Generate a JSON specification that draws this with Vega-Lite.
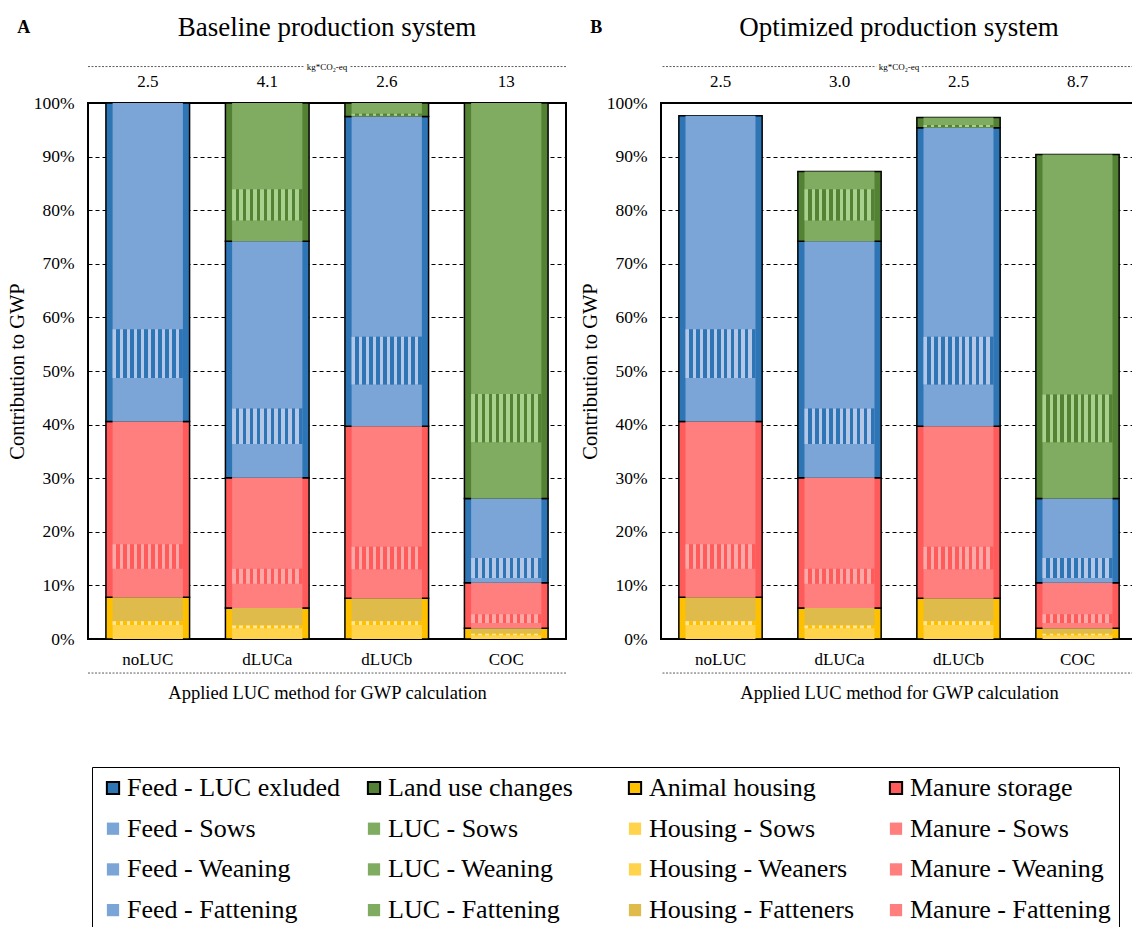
{
  "$schema": "https://vega.github.io/schema/vega-lite/v6.json",
  "background": "white",
  "padding": {"left": 6, "top": 12, "right": 0, "bottom": 0},
  "datasets": {
    "segs": [
      {"p":"A","m":"noLUC","g":"Animal housing","s":"Housing - Sows","o":1,"v":2.6},
      {"p":"A","m":"noLUC","g":"Animal housing","s":"Housing - Weaners","o":2,"v":0.7},
      {"p":"A","m":"noLUC","g":"Animal housing","s":"Housing - Fatteners","o":3,"v":4.5},
      {"p":"A","m":"noLUC","g":"Manure storage","s":"Manure - Sows","o":4,"v":5.3},
      {"p":"A","m":"noLUC","g":"Manure storage","s":"Manure - Weaning","o":5,"v":4.6},
      {"p":"A","m":"noLUC","g":"Manure storage","s":"Manure - Fattening","o":6,"v":22.9},
      {"p":"A","m":"noLUC","g":"Feed  - LUC exluded","s":"Feed - Sows","o":7,"v":8.1},
      {"p":"A","m":"noLUC","g":"Feed  - LUC exluded","s":"Feed - Weaning","o":8,"v":9.1},
      {"p":"A","m":"noLUC","g":"Feed  - LUC exluded","s":"Feed - Fattening","o":9,"v":42.2},

      {"p":"A","m":"dLUCa","g":"Animal housing","s":"Housing - Sows","o":1,"v":2.0},
      {"p":"A","m":"dLUCa","g":"Animal housing","s":"Housing - Weaners","o":2,"v":0.5},
      {"p":"A","m":"dLUCa","g":"Animal housing","s":"Housing - Fatteners","o":3,"v":3.3},
      {"p":"A","m":"dLUCa","g":"Manure storage","s":"Manure - Sows","o":4,"v":4.5},
      {"p":"A","m":"dLUCa","g":"Manure storage","s":"Manure - Weaning","o":5,"v":2.8},
      {"p":"A","m":"dLUCa","g":"Manure storage","s":"Manure - Fattening","o":6,"v":17.0},
      {"p":"A","m":"dLUCa","g":"Feed  - LUC exluded","s":"Feed - Sows","o":7,"v":6.3},
      {"p":"A","m":"dLUCa","g":"Feed  - LUC exluded","s":"Feed - Weaning","o":8,"v":6.6},
      {"p":"A","m":"dLUCa","g":"Feed  - LUC exluded","s":"Feed - Fattening","o":9,"v":31.2},
      {"p":"A","m":"dLUCa","g":"Land use changes","s":"LUC - Sows","o":10,"v":3.9},
      {"p":"A","m":"dLUCa","g":"Land use changes","s":"LUC - Weaning","o":11,"v":5.8},
      {"p":"A","m":"dLUCa","g":"Land use changes","s":"LUC - Fattening","o":12,"v":16.1},

      {"p":"A","m":"dLUCb","g":"Animal housing","s":"Housing - Sows","o":1,"v":2.6},
      {"p":"A","m":"dLUCb","g":"Animal housing","s":"Housing - Weaners","o":2,"v":0.7},
      {"p":"A","m":"dLUCb","g":"Animal housing","s":"Housing - Fatteners","o":3,"v":4.3},
      {"p":"A","m":"dLUCb","g":"Manure storage","s":"Manure - Sows","o":4,"v":5.4},
      {"p":"A","m":"dLUCb","g":"Manure storage","s":"Manure - Weaning","o":5,"v":4.2},
      {"p":"A","m":"dLUCb","g":"Manure storage","s":"Manure - Fattening","o":6,"v":22.5},
      {"p":"A","m":"dLUCb","g":"Feed  - LUC exluded","s":"Feed - Sows","o":7,"v":7.8},
      {"p":"A","m":"dLUCb","g":"Feed  - LUC exluded","s":"Feed - Weaning","o":8,"v":8.9},
      {"p":"A","m":"dLUCb","g":"Feed  - LUC exluded","s":"Feed - Fattening","o":9,"v":41.1},
      {"p":"A","m":"dLUCb","g":"Land use changes","s":"LUC - Sows","o":10,"v":0.1},
      {"p":"A","m":"dLUCb","g":"Land use changes","s":"LUC - Weaning","o":11,"v":0.4},
      {"p":"A","m":"dLUCb","g":"Land use changes","s":"LUC - Fattening","o":12,"v":2.0},

      {"p":"A","m":"COC","g":"Animal housing","s":"Housing - Sows","o":1,"v":0.7},
      {"p":"A","m":"COC","g":"Animal housing","s":"Housing - Weaners","o":2,"v":0.3},
      {"p":"A","m":"COC","g":"Animal housing","s":"Housing - Fatteners","o":3,"v":1.0},
      {"p":"A","m":"COC","g":"Manure storage","s":"Manure - Sows","o":4,"v":1.0},
      {"p":"A","m":"COC","g":"Manure storage","s":"Manure - Weaning","o":5,"v":1.6},
      {"p":"A","m":"COC","g":"Manure storage","s":"Manure - Fattening","o":6,"v":5.9},
      {"p":"A","m":"COC","g":"Feed  - LUC exluded","s":"Feed - Sows","o":7,"v":0.9},
      {"p":"A","m":"COC","g":"Feed  - LUC exluded","s":"Feed - Weaning","o":8,"v":3.7},
      {"p":"A","m":"COC","g":"Feed  - LUC exluded","s":"Feed - Fattening","o":9,"v":11.1},
      {"p":"A","m":"COC","g":"Land use changes","s":"LUC - Sows","o":10,"v":10.5},
      {"p":"A","m":"COC","g":"Land use changes","s":"LUC - Weaning","o":11,"v":9.0},
      {"p":"A","m":"COC","g":"Land use changes","s":"LUC - Fattening","o":12,"v":54.3},

      {"p":"B","m":"noLUC","g":"Animal housing","s":"Housing - Sows","o":1,"v":2.6},
      {"p":"B","m":"noLUC","g":"Animal housing","s":"Housing - Weaners","o":2,"v":0.7},
      {"p":"B","m":"noLUC","g":"Animal housing","s":"Housing - Fatteners","o":3,"v":4.5},
      {"p":"B","m":"noLUC","g":"Manure storage","s":"Manure - Sows","o":4,"v":5.3},
      {"p":"B","m":"noLUC","g":"Manure storage","s":"Manure - Weaning","o":5,"v":4.6},
      {"p":"B","m":"noLUC","g":"Manure storage","s":"Manure - Fattening","o":6,"v":22.9},
      {"p":"B","m":"noLUC","g":"Feed  - LUC exluded","s":"Feed - Sows","o":7,"v":8.1},
      {"p":"B","m":"noLUC","g":"Feed  - LUC exluded","s":"Feed - Weaning","o":8,"v":9.1},
      {"p":"B","m":"noLUC","g":"Feed  - LUC exluded","s":"Feed - Fattening","o":9,"v":39.8},

      {"p":"B","m":"dLUCa","g":"Animal housing","s":"Housing - Sows","o":1,"v":2.0},
      {"p":"B","m":"dLUCa","g":"Animal housing","s":"Housing - Weaners","o":2,"v":0.5},
      {"p":"B","m":"dLUCa","g":"Animal housing","s":"Housing - Fatteners","o":3,"v":3.3},
      {"p":"B","m":"dLUCa","g":"Manure storage","s":"Manure - Sows","o":4,"v":4.5},
      {"p":"B","m":"dLUCa","g":"Manure storage","s":"Manure - Weaning","o":5,"v":2.8},
      {"p":"B","m":"dLUCa","g":"Manure storage","s":"Manure - Fattening","o":6,"v":17.0},
      {"p":"B","m":"dLUCa","g":"Feed  - LUC exluded","s":"Feed - Sows","o":7,"v":6.3},
      {"p":"B","m":"dLUCa","g":"Feed  - LUC exluded","s":"Feed - Weaning","o":8,"v":6.6},
      {"p":"B","m":"dLUCa","g":"Feed  - LUC exluded","s":"Feed - Fattening","o":9,"v":31.2},
      {"p":"B","m":"dLUCa","g":"Land use changes","s":"LUC - Sows","o":10,"v":3.9},
      {"p":"B","m":"dLUCa","g":"Land use changes","s":"LUC - Weaning","o":11,"v":5.8},
      {"p":"B","m":"dLUCa","g":"Land use changes","s":"LUC - Fattening","o":12,"v":3.3},

      {"p":"B","m":"dLUCb","g":"Animal housing","s":"Housing - Sows","o":1,"v":2.6},
      {"p":"B","m":"dLUCb","g":"Animal housing","s":"Housing - Weaners","o":2,"v":0.7},
      {"p":"B","m":"dLUCb","g":"Animal housing","s":"Housing - Fatteners","o":3,"v":4.3},
      {"p":"B","m":"dLUCb","g":"Manure storage","s":"Manure - Sows","o":4,"v":5.4},
      {"p":"B","m":"dLUCb","g":"Manure storage","s":"Manure - Weaning","o":5,"v":4.2},
      {"p":"B","m":"dLUCb","g":"Manure storage","s":"Manure - Fattening","o":6,"v":22.5},
      {"p":"B","m":"dLUCb","g":"Feed  - LUC exluded","s":"Feed - Sows","o":7,"v":7.8},
      {"p":"B","m":"dLUCb","g":"Feed  - LUC exluded","s":"Feed - Weaning","o":8,"v":8.9},
      {"p":"B","m":"dLUCb","g":"Feed  - LUC exluded","s":"Feed - Fattening","o":9,"v":39.0},
      {"p":"B","m":"dLUCb","g":"Land use changes","s":"LUC - Sows","o":10,"v":0.1},
      {"p":"B","m":"dLUCb","g":"Land use changes","s":"LUC - Weaning","o":11,"v":0.4},
      {"p":"B","m":"dLUCb","g":"Land use changes","s":"LUC - Fattening","o":12,"v":1.4},

      {"p":"B","m":"COC","g":"Animal housing","s":"Housing - Sows","o":1,"v":0.7},
      {"p":"B","m":"COC","g":"Animal housing","s":"Housing - Weaners","o":2,"v":0.3},
      {"p":"B","m":"COC","g":"Animal housing","s":"Housing - Fatteners","o":3,"v":1.0},
      {"p":"B","m":"COC","g":"Manure storage","s":"Manure - Sows","o":4,"v":1.0},
      {"p":"B","m":"COC","g":"Manure storage","s":"Manure - Weaning","o":5,"v":1.6},
      {"p":"B","m":"COC","g":"Manure storage","s":"Manure - Fattening","o":6,"v":5.9},
      {"p":"B","m":"COC","g":"Feed  - LUC exluded","s":"Feed - Sows","o":7,"v":0.9},
      {"p":"B","m":"COC","g":"Feed  - LUC exluded","s":"Feed - Weaning","o":8,"v":3.7},
      {"p":"B","m":"COC","g":"Feed  - LUC exluded","s":"Feed - Fattening","o":9,"v":11.1},
      {"p":"B","m":"COC","g":"Land use changes","s":"LUC - Sows","o":10,"v":10.5},
      {"p":"B","m":"COC","g":"Land use changes","s":"LUC - Weaning","o":11,"v":8.9},
      {"p":"B","m":"COC","g":"Land use changes","s":"LUC - Fattening","o":12,"v":44.8}
    ],
    "kg": [
      {"p":"A","m":"noLUC","kg":"2.5"},
      {"p":"A","m":"dLUCa","kg":"4.1"},
      {"p":"A","m":"dLUCb","kg":"2.6"},
      {"p":"A","m":"COC","kg":"13"},
      {"p":"B","m":"noLUC","kg":"2.5"},
      {"p":"B","m":"dLUCa","kg":"3.0"},
      {"p":"B","m":"dLUCb","kg":"2.5"},
      {"p":"B","m":"COC","kg":"8.7"}
    ],
    "unit": [{"u": "kg*CO₂-eq"}],
    "line": [{"k": 1}]
  },
  "spacing": 11,
  "hconcat": [
    {
      "title": {"text": "A", "anchor": "start", "frame": "bounds", "fontSize": 18, "fontWeight": "bold", "offset": -24, "dx": 11},
      "vconcat": [
        {
          "width": 478,
          "height": 536,
          "title": {"text": "Baseline production system", "fontSize": 27, "offset": 21},
          "layer": [
            {
              "data": {"name": "segs"},
              "transform": [
                {"filter": "datum.p === 'A'"},
                {"stack": "v", "groupby": ["m"], "sort": [{"field": "o", "order": "ascending"}], "as": ["y0", "y1"]},
                {"aggregate": [{"op": "min", "field": "y0", "as": "gy0"}, {"op": "max", "field": "y1", "as": "gy1"}], "groupby": ["m", "g"]}
              ],
              "mark": {"type": "bar", "stroke": "black", "strokeWidth": 1.5},
              "encoding": {
                "x": {"field": "m", "type": "nominal", "sort": ["noLUC","dLUCa","dLUCb","COC"], "title": "Applied LUC method for GWP calculation"},
                "y": {"field": "gy0", "type": "quantitative", "scale": {"domain": [0, 100]}, "title": "Contribution to GWP", "axis": {"values": [0,10,20,30,40,50,60,70,80,90,100], "labelExpr": "datum.value + '%'"}},
                "y2": {"field": "gy1"},
                "color": {"field": "g", "type": "nominal",
                  "scale": {"domain": ["Feed  - LUC exluded","Feed - Sows","Feed - Weaning","Feed - Fattening","Land use changes","LUC - Sows","LUC - Weaning","LUC - Fattening","Animal housing","Housing - Sows","Housing - Weaners","Housing - Fatteners","Manure storage","Manure - Sows","Manure - Weaning","Manure - Fattening"],
                            "range": ["#2E75B6","#7BA5D6","#7BA5D6","#7BA5D6","#548235","#80AC62","#80AC62","#80AC62","#FFC000","#FFD34C","#FFD34C","#DFBB4C","#FF5B5B","#FF7E7E","#FF7E7E","#FF7E7E"]},
                  "legend": {"title": null, "orient": "none", "legendX": 4, "legendY": 664, "columns": 4, "gridAlign": "all", "columnPadding": 14, "rowPadding": 14.7, "padding": 8, "strokeColor": "black",
                    "labelFont": "Liberation Serif", "labelFontSize": 26, "labelColor": "black", "labelLimit": 400, "labelOffset": 1, "symbolType": "square", "symbolSize": 150,
                    "encode": {"labels": {"update": {"font": {"value": "Liberation Serif"}}}, "symbols": {"update": {"stroke": {"signal": "indexof(['Feed  - LUC exluded','Land use changes','Animal housing','Manure storage'], datum.value) >= 0 ? 'black' : 'transparent'"}, "strokeWidth": {"value": 2}}}}}}
              }
            },
            {
              "data": {"name": "segs"},
              "transform": [
                {"filter": "datum.p === 'A'"},
                {"stack": "v", "groupby": ["m"], "sort": [{"field": "o", "order": "ascending"}], "as": ["y0", "y1"]}
              ],
              "mark": {"type": "bar", "width": {"band": 0.84}},
              "encoding": {
                "x": {"field": "m", "type": "nominal", "sort": ["noLUC","dLUCa","dLUCb","COC"], "title": "Applied LUC method for GWP calculation"},
                "y": {"field": "y0", "type": "quantitative", "scale": {"domain": [0, 100]}, "title": "Contribution to GWP", "axis": {"values": [0,10,20,30,40,50,60,70,80,90,100], "labelExpr": "datum.value + '%'"}},
                "y2": {"field": "y1"},
                "color": {"field": "s", "type": "nominal",
                  "scale": {"domain": ["Feed  - LUC exluded","Feed - Sows","Feed - Weaning","Feed - Fattening","Land use changes","LUC - Sows","LUC - Weaning","LUC - Fattening","Animal housing","Housing - Sows","Housing - Weaners","Housing - Fatteners","Manure storage","Manure - Sows","Manure - Weaning","Manure - Fattening"],
                            "range": ["#2E75B6","#7BA5D6","#7BA5D6","#7BA5D6","#548235","#80AC62","#80AC62","#80AC62","#FFC000","#FFD34C","#FFD34C","#DFBB4C","#FF5B5B","#FF7E7E","#FF7E7E","#FF7E7E"]},
                  "legend": {"title": null, "orient": "none", "legendX": 4, "legendY": 664, "columns": 4, "gridAlign": "all", "columnPadding": 14, "rowPadding": 14.7, "padding": 8, "strokeColor": "black",
                    "labelFont": "Liberation Serif", "labelFontSize": 26, "labelColor": "black", "labelLimit": 400, "labelOffset": 1, "symbolType": "square", "symbolSize": 150,
                    "encode": {"labels": {"update": {"font": {"value": "Liberation Serif"}}}, "symbols": {"update": {"stroke": {"signal": "indexof(['Feed  - LUC exluded','Land use changes','Animal housing','Manure storage'], datum.value) >= 0 ? 'black' : 'transparent'"}, "strokeWidth": {"value": 2}}}}}}
              }
            },
            {
              "data": {"name": "segs"},
              "transform": [
                {"filter": "datum.p === 'A'"},
                {"stack": "v", "groupby": ["m"], "sort": [{"field": "o", "order": "ascending"}], "as": ["y0", "y1"]},
                {"filter": "datum.s === 'Feed - Weaning'"}
              ],
              "mark": {"type": "bar", "width": {"band": 0.84}, "fill": {"gradient": "linear", "x1": 0, "y1": 0, "x2": 1, "y2": 0, "stops": [
                {"offset":0,"color":"#B4C7E7"},{"offset":0.05,"color":"#B4C7E7"},{"offset":0.05,"color":"#2E75B6"},{"offset":0.1,"color":"#2E75B6"},
                {"offset":0.1,"color":"#B4C7E7"},{"offset":0.15,"color":"#B4C7E7"},{"offset":0.15,"color":"#2E75B6"},{"offset":0.2,"color":"#2E75B6"},
                {"offset":0.2,"color":"#B4C7E7"},{"offset":0.25,"color":"#B4C7E7"},{"offset":0.25,"color":"#2E75B6"},{"offset":0.3,"color":"#2E75B6"},
                {"offset":0.3,"color":"#B4C7E7"},{"offset":0.35,"color":"#B4C7E7"},{"offset":0.35,"color":"#2E75B6"},{"offset":0.4,"color":"#2E75B6"},
                {"offset":0.4,"color":"#B4C7E7"},{"offset":0.45,"color":"#B4C7E7"},{"offset":0.45,"color":"#2E75B6"},{"offset":0.5,"color":"#2E75B6"},
                {"offset":0.5,"color":"#B4C7E7"},{"offset":0.55,"color":"#B4C7E7"},{"offset":0.55,"color":"#2E75B6"},{"offset":0.6,"color":"#2E75B6"},
                {"offset":0.6,"color":"#B4C7E7"},{"offset":0.65,"color":"#B4C7E7"},{"offset":0.65,"color":"#2E75B6"},{"offset":0.7,"color":"#2E75B6"},
                {"offset":0.7,"color":"#B4C7E7"},{"offset":0.75,"color":"#B4C7E7"},{"offset":0.75,"color":"#2E75B6"},{"offset":0.8,"color":"#2E75B6"},
                {"offset":0.8,"color":"#B4C7E7"},{"offset":0.85,"color":"#B4C7E7"},{"offset":0.85,"color":"#2E75B6"},{"offset":0.9,"color":"#2E75B6"},
                {"offset":0.9,"color":"#B4C7E7"},{"offset":0.95,"color":"#B4C7E7"},{"offset":0.95,"color":"#2E75B6"},{"offset":1,"color":"#2E75B6"}]}},
              "encoding": {
                "x": {"field": "m", "type": "nominal", "sort": ["noLUC","dLUCa","dLUCb","COC"], "title": "Applied LUC method for GWP calculation"},
                "y": {"field": "y0", "type": "quantitative", "scale": {"domain": [0, 100]}, "title": "Contribution to GWP", "axis": {"values": [0,10,20,30,40,50,60,70,80,90,100], "labelExpr": "datum.value + '%'"}},
                "y2": {"field": "y1"}
              }
            },
            {
              "data": {"name": "segs"},
              "transform": [
                {"filter": "datum.p === 'A'"},
                {"stack": "v", "groupby": ["m"], "sort": [{"field": "o", "order": "ascending"}], "as": ["y0", "y1"]},
                {"filter": "datum.s === 'LUC - Weaning'"}
              ],
              "mark": {"type": "bar", "width": {"band": 0.84}, "fill": {"gradient": "linear", "x1": 0, "y1": 0, "x2": 1, "y2": 0, "stops": [
                {"offset":0,"color":"#A9D18E"},{"offset":0.05,"color":"#A9D18E"},{"offset":0.05,"color":"#548235"},{"offset":0.1,"color":"#548235"},
                {"offset":0.1,"color":"#A9D18E"},{"offset":0.15,"color":"#A9D18E"},{"offset":0.15,"color":"#548235"},{"offset":0.2,"color":"#548235"},
                {"offset":0.2,"color":"#A9D18E"},{"offset":0.25,"color":"#A9D18E"},{"offset":0.25,"color":"#548235"},{"offset":0.3,"color":"#548235"},
                {"offset":0.3,"color":"#A9D18E"},{"offset":0.35,"color":"#A9D18E"},{"offset":0.35,"color":"#548235"},{"offset":0.4,"color":"#548235"},
                {"offset":0.4,"color":"#A9D18E"},{"offset":0.45,"color":"#A9D18E"},{"offset":0.45,"color":"#548235"},{"offset":0.5,"color":"#548235"},
                {"offset":0.5,"color":"#A9D18E"},{"offset":0.55,"color":"#A9D18E"},{"offset":0.55,"color":"#548235"},{"offset":0.6,"color":"#548235"},
                {"offset":0.6,"color":"#A9D18E"},{"offset":0.65,"color":"#A9D18E"},{"offset":0.65,"color":"#548235"},{"offset":0.7,"color":"#548235"},
                {"offset":0.7,"color":"#A9D18E"},{"offset":0.75,"color":"#A9D18E"},{"offset":0.75,"color":"#548235"},{"offset":0.8,"color":"#548235"},
                {"offset":0.8,"color":"#A9D18E"},{"offset":0.85,"color":"#A9D18E"},{"offset":0.85,"color":"#548235"},{"offset":0.9,"color":"#548235"},
                {"offset":0.9,"color":"#A9D18E"},{"offset":0.95,"color":"#A9D18E"},{"offset":0.95,"color":"#548235"},{"offset":1,"color":"#548235"}]}},
              "encoding": {
                "x": {"field": "m", "type": "nominal", "sort": ["noLUC","dLUCa","dLUCb","COC"], "title": "Applied LUC method for GWP calculation"},
                "y": {"field": "y0", "type": "quantitative", "scale": {"domain": [0, 100]}, "title": "Contribution to GWP", "axis": {"values": [0,10,20,30,40,50,60,70,80,90,100], "labelExpr": "datum.value + '%'"}},
                "y2": {"field": "y1"}
              }
            },
            {
              "data": {"name": "segs"},
              "transform": [
                {"filter": "datum.p === 'A'"},
                {"stack": "v", "groupby": ["m"], "sort": [{"field": "o", "order": "ascending"}], "as": ["y0", "y1"]},
                {"filter": "datum.s === 'Manure - Weaning'"}
              ],
              "mark": {"type": "bar", "width": {"band": 0.84}, "fill": {"gradient": "linear", "x1": 0, "y1": 0, "x2": 1, "y2": 0, "stops": [
                {"offset":0,"color":"#FFA8A8"},{"offset":0.05,"color":"#FFA8A8"},{"offset":0.05,"color":"#FF5B5B"},{"offset":0.1,"color":"#FF5B5B"},
                {"offset":0.1,"color":"#FFA8A8"},{"offset":0.15,"color":"#FFA8A8"},{"offset":0.15,"color":"#FF5B5B"},{"offset":0.2,"color":"#FF5B5B"},
                {"offset":0.2,"color":"#FFA8A8"},{"offset":0.25,"color":"#FFA8A8"},{"offset":0.25,"color":"#FF5B5B"},{"offset":0.3,"color":"#FF5B5B"},
                {"offset":0.3,"color":"#FFA8A8"},{"offset":0.35,"color":"#FFA8A8"},{"offset":0.35,"color":"#FF5B5B"},{"offset":0.4,"color":"#FF5B5B"},
                {"offset":0.4,"color":"#FFA8A8"},{"offset":0.45,"color":"#FFA8A8"},{"offset":0.45,"color":"#FF5B5B"},{"offset":0.5,"color":"#FF5B5B"},
                {"offset":0.5,"color":"#FFA8A8"},{"offset":0.55,"color":"#FFA8A8"},{"offset":0.55,"color":"#FF5B5B"},{"offset":0.6,"color":"#FF5B5B"},
                {"offset":0.6,"color":"#FFA8A8"},{"offset":0.65,"color":"#FFA8A8"},{"offset":0.65,"color":"#FF5B5B"},{"offset":0.7,"color":"#FF5B5B"},
                {"offset":0.7,"color":"#FFA8A8"},{"offset":0.75,"color":"#FFA8A8"},{"offset":0.75,"color":"#FF5B5B"},{"offset":0.8,"color":"#FF5B5B"},
                {"offset":0.8,"color":"#FFA8A8"},{"offset":0.85,"color":"#FFA8A8"},{"offset":0.85,"color":"#FF5B5B"},{"offset":0.9,"color":"#FF5B5B"},
                {"offset":0.9,"color":"#FFA8A8"},{"offset":0.95,"color":"#FFA8A8"},{"offset":0.95,"color":"#FF5B5B"},{"offset":1,"color":"#FF5B5B"}]}},
              "encoding": {
                "x": {"field": "m", "type": "nominal", "sort": ["noLUC","dLUCa","dLUCb","COC"], "title": "Applied LUC method for GWP calculation"},
                "y": {"field": "y0", "type": "quantitative", "scale": {"domain": [0, 100]}, "title": "Contribution to GWP", "axis": {"values": [0,10,20,30,40,50,60,70,80,90,100], "labelExpr": "datum.value + '%'"}},
                "y2": {"field": "y1"}
              }
            },
            {
              "data": {"name": "segs"},
              "transform": [
                {"filter": "datum.p === 'A'"},
                {"stack": "v", "groupby": ["m"], "sort": [{"field": "o", "order": "ascending"}], "as": ["y0", "y1"]},
                {"filter": "datum.s === 'Housing - Weaners'"}
              ],
              "mark": {"type": "bar", "width": {"band": 0.84}, "fill": {"gradient": "linear", "x1": 0, "y1": 0, "x2": 1, "y2": 0, "stops": [
                {"offset":0,"color":"#FFE699"},{"offset":0.05,"color":"#FFE699"},{"offset":0.05,"color":"#FFC000"},{"offset":0.1,"color":"#FFC000"},
                {"offset":0.1,"color":"#FFE699"},{"offset":0.15,"color":"#FFE699"},{"offset":0.15,"color":"#FFC000"},{"offset":0.2,"color":"#FFC000"},
                {"offset":0.2,"color":"#FFE699"},{"offset":0.25,"color":"#FFE699"},{"offset":0.25,"color":"#FFC000"},{"offset":0.3,"color":"#FFC000"},
                {"offset":0.3,"color":"#FFE699"},{"offset":0.35,"color":"#FFE699"},{"offset":0.35,"color":"#FFC000"},{"offset":0.4,"color":"#FFC000"},
                {"offset":0.4,"color":"#FFE699"},{"offset":0.45,"color":"#FFE699"},{"offset":0.45,"color":"#FFC000"},{"offset":0.5,"color":"#FFC000"},
                {"offset":0.5,"color":"#FFE699"},{"offset":0.55,"color":"#FFE699"},{"offset":0.55,"color":"#FFC000"},{"offset":0.6,"color":"#FFC000"},
                {"offset":0.6,"color":"#FFE699"},{"offset":0.65,"color":"#FFE699"},{"offset":0.65,"color":"#FFC000"},{"offset":0.7,"color":"#FFC000"},
                {"offset":0.7,"color":"#FFE699"},{"offset":0.75,"color":"#FFE699"},{"offset":0.75,"color":"#FFC000"},{"offset":0.8,"color":"#FFC000"},
                {"offset":0.8,"color":"#FFE699"},{"offset":0.85,"color":"#FFE699"},{"offset":0.85,"color":"#FFC000"},{"offset":0.9,"color":"#FFC000"},
                {"offset":0.9,"color":"#FFE699"},{"offset":0.95,"color":"#FFE699"},{"offset":0.95,"color":"#FFC000"},{"offset":1,"color":"#FFC000"}]}},
              "encoding": {
                "x": {"field": "m", "type": "nominal", "sort": ["noLUC","dLUCa","dLUCb","COC"], "title": "Applied LUC method for GWP calculation"},
                "y": {"field": "y0", "type": "quantitative", "scale": {"domain": [0, 100]}, "title": "Contribution to GWP", "axis": {"values": [0,10,20,30,40,50,60,70,80,90,100], "labelExpr": "datum.value + '%'"}},
                "y2": {"field": "y1"}
              }
            },
            {
              "data": {"name": "line"},
              "mark": {"type": "rule", "color": "#333333", "strokeWidth": 0.8, "strokeDash": [2, 1.5]},
              "encoding": {"y": {"datum": 106.8, "type": "quantitative", "scale": {"domain": [0, 100]}, "title": "Contribution to GWP", "axis": {"values": [0,10,20,30,40,50,60,70,80,90,100], "labelExpr": "datum.value + '%'"}}}
            },
            {
              "data": {"name": "line"},
              "mark": {"type": "rule", "color": "#333333", "strokeWidth": 0.8, "strokeDash": [2, 1.5]},
              "encoding": {"y": {"datum": -6.35, "type": "quantitative", "scale": {"domain": [0, 100]}, "title": "Contribution to GWP", "axis": {"values": [0,10,20,30,40,50,60,70,80,90,100], "labelExpr": "datum.value + '%'"}}}
            },
            {
              "data": {"name": "unit"},
              "mark": {"type": "text", "fontSize": 9, "baseline": "middle", "align": "center", "fill": "white", "stroke": "white", "strokeWidth": 6},
              "encoding": {
                "x": {"datum": "dLUCa", "type": "nominal", "bandPosition": 1.214, "sort": ["noLUC","dLUCa","dLUCb","COC"], "title": "Applied LUC method for GWP calculation"},
                "y": {"datum": 106.8, "type": "quantitative", "scale": {"domain": [0, 100]}, "title": "Contribution to GWP", "axis": {"values": [0,10,20,30,40,50,60,70,80,90,100], "labelExpr": "datum.value + '%'"}},
                "text": {"field": "u"}
              }
            },
            {
              "data": {"name": "unit"},
              "mark": {"type": "text", "fontSize": 9, "baseline": "middle", "align": "center", "fill": "black"},
              "encoding": {
                "x": {"datum": "dLUCa", "type": "nominal", "bandPosition": 1.214, "sort": ["noLUC","dLUCa","dLUCb","COC"], "title": "Applied LUC method for GWP calculation"},
                "y": {"datum": 106.8, "type": "quantitative", "scale": {"domain": [0, 100]}, "title": "Contribution to GWP", "axis": {"values": [0,10,20,30,40,50,60,70,80,90,100], "labelExpr": "datum.value + '%'"}},
                "text": {"field": "u"}
              }
            },
            {
              "data": {"name": "kg"},
              "transform": [{"filter": "datum.p === 'A'"}],
              "mark": {"type": "text", "fontSize": 17, "baseline": "alphabetic", "fill": "black"},
              "encoding": {
                "x": {"field": "m", "type": "nominal", "sort": ["noLUC","dLUCa","dLUCb","COC"], "title": "Applied LUC method for GWP calculation"},
                "y": {"datum": 102.9, "type": "quantitative", "scale": {"domain": [0, 100]}, "title": "Contribution to GWP", "axis": {"values": [0,10,20,30,40,50,60,70,80,90,100], "labelExpr": "datum.value + '%'"}},
                "text": {"field": "kg"}
              }
            }
          ]
        }
      ]
    },
    {
      "title": {"text": "B", "anchor": "start", "frame": "bounds", "fontSize": 18, "fontWeight": "bold", "offset": -24, "dx": 11},
      "vconcat": [
        {
          "width": 476,
          "height": 536,
          "title": {"text": "Optimized production system", "fontSize": 27, "offset": 21},
          "layer": [
            {
              "data": {"name": "segs"},
              "transform": [
                {"filter": "datum.p === 'B'"},
                {"stack": "v", "groupby": ["m"], "sort": [{"field": "o", "order": "ascending"}], "as": ["y0", "y1"]},
                {"aggregate": [{"op": "min", "field": "y0", "as": "gy0"}, {"op": "max", "field": "y1", "as": "gy1"}], "groupby": ["m", "g"]}
              ],
              "mark": {"type": "bar", "stroke": "black", "strokeWidth": 1.5},
              "encoding": {
                "x": {"field": "m", "type": "nominal", "sort": ["noLUC","dLUCa","dLUCb","COC"], "title": "Applied LUC method for GWP calculation"},
                "y": {"field": "gy0", "type": "quantitative", "scale": {"domain": [0, 100]}, "title": "Contribution to GWP", "axis": {"values": [0,10,20,30,40,50,60,70,80,90,100], "labelExpr": "datum.value + '%'"}},
                "y2": {"field": "gy1"},
                "color": {"field": "g", "type": "nominal",
                  "scale": {"domain": ["Feed  - LUC exluded","Feed - Sows","Feed - Weaning","Feed - Fattening","Land use changes","LUC - Sows","LUC - Weaning","LUC - Fattening","Animal housing","Housing - Sows","Housing - Weaners","Housing - Fatteners","Manure storage","Manure - Sows","Manure - Weaning","Manure - Fattening"],
                            "range": ["#2E75B6","#7BA5D6","#7BA5D6","#7BA5D6","#548235","#80AC62","#80AC62","#80AC62","#FFC000","#FFD34C","#FFD34C","#DFBB4C","#FF5B5B","#FF7E7E","#FF7E7E","#FF7E7E"]},
                  "legend": {"title": null, "orient": "none", "legendX": 4, "legendY": 664, "columns": 4, "gridAlign": "all", "columnPadding": 14, "rowPadding": 14.7, "padding": 8, "strokeColor": "black",
                    "labelFont": "Liberation Serif", "labelFontSize": 26, "labelColor": "black", "labelLimit": 400, "labelOffset": 1, "symbolType": "square", "symbolSize": 150,
                    "encode": {"labels": {"update": {"font": {"value": "Liberation Serif"}}}, "symbols": {"update": {"stroke": {"signal": "indexof(['Feed  - LUC exluded','Land use changes','Animal housing','Manure storage'], datum.value) >= 0 ? 'black' : 'transparent'"}, "strokeWidth": {"value": 2}}}}}}
              }
            },
            {
              "data": {"name": "segs"},
              "transform": [
                {"filter": "datum.p === 'B'"},
                {"stack": "v", "groupby": ["m"], "sort": [{"field": "o", "order": "ascending"}], "as": ["y0", "y1"]}
              ],
              "mark": {"type": "bar", "width": {"band": 0.84}},
              "encoding": {
                "x": {"field": "m", "type": "nominal", "sort": ["noLUC","dLUCa","dLUCb","COC"], "title": "Applied LUC method for GWP calculation"},
                "y": {"field": "y0", "type": "quantitative", "scale": {"domain": [0, 100]}, "title": "Contribution to GWP", "axis": {"values": [0,10,20,30,40,50,60,70,80,90,100], "labelExpr": "datum.value + '%'"}},
                "y2": {"field": "y1"},
                "color": {"field": "s", "type": "nominal",
                  "scale": {"domain": ["Feed  - LUC exluded","Feed - Sows","Feed - Weaning","Feed - Fattening","Land use changes","LUC - Sows","LUC - Weaning","LUC - Fattening","Animal housing","Housing - Sows","Housing - Weaners","Housing - Fatteners","Manure storage","Manure - Sows","Manure - Weaning","Manure - Fattening"],
                            "range": ["#2E75B6","#7BA5D6","#7BA5D6","#7BA5D6","#548235","#80AC62","#80AC62","#80AC62","#FFC000","#FFD34C","#FFD34C","#DFBB4C","#FF5B5B","#FF7E7E","#FF7E7E","#FF7E7E"]},
                  "legend": {"title": null, "orient": "none", "legendX": 4, "legendY": 664, "columns": 4, "gridAlign": "all", "columnPadding": 14, "rowPadding": 14.7, "padding": 8, "strokeColor": "black",
                    "labelFont": "Liberation Serif", "labelFontSize": 26, "labelColor": "black", "labelLimit": 400, "labelOffset": 1, "symbolType": "square", "symbolSize": 150,
                    "encode": {"labels": {"update": {"font": {"value": "Liberation Serif"}}}, "symbols": {"update": {"stroke": {"signal": "indexof(['Feed  - LUC exluded','Land use changes','Animal housing','Manure storage'], datum.value) >= 0 ? 'black' : 'transparent'"}, "strokeWidth": {"value": 2}}}}}}
              }
            },
            {
              "data": {"name": "segs"},
              "transform": [
                {"filter": "datum.p === 'B'"},
                {"stack": "v", "groupby": ["m"], "sort": [{"field": "o", "order": "ascending"}], "as": ["y0", "y1"]},
                {"filter": "datum.s === 'Feed - Weaning'"}
              ],
              "mark": {"type": "bar", "width": {"band": 0.84}, "fill": {"gradient": "linear", "x1": 0, "y1": 0, "x2": 1, "y2": 0, "stops": [
                {"offset":0,"color":"#B4C7E7"},{"offset":0.05,"color":"#B4C7E7"},{"offset":0.05,"color":"#2E75B6"},{"offset":0.1,"color":"#2E75B6"},
                {"offset":0.1,"color":"#B4C7E7"},{"offset":0.15,"color":"#B4C7E7"},{"offset":0.15,"color":"#2E75B6"},{"offset":0.2,"color":"#2E75B6"},
                {"offset":0.2,"color":"#B4C7E7"},{"offset":0.25,"color":"#B4C7E7"},{"offset":0.25,"color":"#2E75B6"},{"offset":0.3,"color":"#2E75B6"},
                {"offset":0.3,"color":"#B4C7E7"},{"offset":0.35,"color":"#B4C7E7"},{"offset":0.35,"color":"#2E75B6"},{"offset":0.4,"color":"#2E75B6"},
                {"offset":0.4,"color":"#B4C7E7"},{"offset":0.45,"color":"#B4C7E7"},{"offset":0.45,"color":"#2E75B6"},{"offset":0.5,"color":"#2E75B6"},
                {"offset":0.5,"color":"#B4C7E7"},{"offset":0.55,"color":"#B4C7E7"},{"offset":0.55,"color":"#2E75B6"},{"offset":0.6,"color":"#2E75B6"},
                {"offset":0.6,"color":"#B4C7E7"},{"offset":0.65,"color":"#B4C7E7"},{"offset":0.65,"color":"#2E75B6"},{"offset":0.7,"color":"#2E75B6"},
                {"offset":0.7,"color":"#B4C7E7"},{"offset":0.75,"color":"#B4C7E7"},{"offset":0.75,"color":"#2E75B6"},{"offset":0.8,"color":"#2E75B6"},
                {"offset":0.8,"color":"#B4C7E7"},{"offset":0.85,"color":"#B4C7E7"},{"offset":0.85,"color":"#2E75B6"},{"offset":0.9,"color":"#2E75B6"},
                {"offset":0.9,"color":"#B4C7E7"},{"offset":0.95,"color":"#B4C7E7"},{"offset":0.95,"color":"#2E75B6"},{"offset":1,"color":"#2E75B6"}]}},
              "encoding": {
                "x": {"field": "m", "type": "nominal", "sort": ["noLUC","dLUCa","dLUCb","COC"], "title": "Applied LUC method for GWP calculation"},
                "y": {"field": "y0", "type": "quantitative", "scale": {"domain": [0, 100]}, "title": "Contribution to GWP", "axis": {"values": [0,10,20,30,40,50,60,70,80,90,100], "labelExpr": "datum.value + '%'"}},
                "y2": {"field": "y1"}
              }
            },
            {
              "data": {"name": "segs"},
              "transform": [
                {"filter": "datum.p === 'B'"},
                {"stack": "v", "groupby": ["m"], "sort": [{"field": "o", "order": "ascending"}], "as": ["y0", "y1"]},
                {"filter": "datum.s === 'LUC - Weaning'"}
              ],
              "mark": {"type": "bar", "width": {"band": 0.84}, "fill": {"gradient": "linear", "x1": 0, "y1": 0, "x2": 1, "y2": 0, "stops": [
                {"offset":0,"color":"#A9D18E"},{"offset":0.05,"color":"#A9D18E"},{"offset":0.05,"color":"#548235"},{"offset":0.1,"color":"#548235"},
                {"offset":0.1,"color":"#A9D18E"},{"offset":0.15,"color":"#A9D18E"},{"offset":0.15,"color":"#548235"},{"offset":0.2,"color":"#548235"},
                {"offset":0.2,"color":"#A9D18E"},{"offset":0.25,"color":"#A9D18E"},{"offset":0.25,"color":"#548235"},{"offset":0.3,"color":"#548235"},
                {"offset":0.3,"color":"#A9D18E"},{"offset":0.35,"color":"#A9D18E"},{"offset":0.35,"color":"#548235"},{"offset":0.4,"color":"#548235"},
                {"offset":0.4,"color":"#A9D18E"},{"offset":0.45,"color":"#A9D18E"},{"offset":0.45,"color":"#548235"},{"offset":0.5,"color":"#548235"},
                {"offset":0.5,"color":"#A9D18E"},{"offset":0.55,"color":"#A9D18E"},{"offset":0.55,"color":"#548235"},{"offset":0.6,"color":"#548235"},
                {"offset":0.6,"color":"#A9D18E"},{"offset":0.65,"color":"#A9D18E"},{"offset":0.65,"color":"#548235"},{"offset":0.7,"color":"#548235"},
                {"offset":0.7,"color":"#A9D18E"},{"offset":0.75,"color":"#A9D18E"},{"offset":0.75,"color":"#548235"},{"offset":0.8,"color":"#548235"},
                {"offset":0.8,"color":"#A9D18E"},{"offset":0.85,"color":"#A9D18E"},{"offset":0.85,"color":"#548235"},{"offset":0.9,"color":"#548235"},
                {"offset":0.9,"color":"#A9D18E"},{"offset":0.95,"color":"#A9D18E"},{"offset":0.95,"color":"#548235"},{"offset":1,"color":"#548235"}]}},
              "encoding": {
                "x": {"field": "m", "type": "nominal", "sort": ["noLUC","dLUCa","dLUCb","COC"], "title": "Applied LUC method for GWP calculation"},
                "y": {"field": "y0", "type": "quantitative", "scale": {"domain": [0, 100]}, "title": "Contribution to GWP", "axis": {"values": [0,10,20,30,40,50,60,70,80,90,100], "labelExpr": "datum.value + '%'"}},
                "y2": {"field": "y1"}
              }
            },
            {
              "data": {"name": "segs"},
              "transform": [
                {"filter": "datum.p === 'B'"},
                {"stack": "v", "groupby": ["m"], "sort": [{"field": "o", "order": "ascending"}], "as": ["y0", "y1"]},
                {"filter": "datum.s === 'Manure - Weaning'"}
              ],
              "mark": {"type": "bar", "width": {"band": 0.84}, "fill": {"gradient": "linear", "x1": 0, "y1": 0, "x2": 1, "y2": 0, "stops": [
                {"offset":0,"color":"#FFA8A8"},{"offset":0.05,"color":"#FFA8A8"},{"offset":0.05,"color":"#FF5B5B"},{"offset":0.1,"color":"#FF5B5B"},
                {"offset":0.1,"color":"#FFA8A8"},{"offset":0.15,"color":"#FFA8A8"},{"offset":0.15,"color":"#FF5B5B"},{"offset":0.2,"color":"#FF5B5B"},
                {"offset":0.2,"color":"#FFA8A8"},{"offset":0.25,"color":"#FFA8A8"},{"offset":0.25,"color":"#FF5B5B"},{"offset":0.3,"color":"#FF5B5B"},
                {"offset":0.3,"color":"#FFA8A8"},{"offset":0.35,"color":"#FFA8A8"},{"offset":0.35,"color":"#FF5B5B"},{"offset":0.4,"color":"#FF5B5B"},
                {"offset":0.4,"color":"#FFA8A8"},{"offset":0.45,"color":"#FFA8A8"},{"offset":0.45,"color":"#FF5B5B"},{"offset":0.5,"color":"#FF5B5B"},
                {"offset":0.5,"color":"#FFA8A8"},{"offset":0.55,"color":"#FFA8A8"},{"offset":0.55,"color":"#FF5B5B"},{"offset":0.6,"color":"#FF5B5B"},
                {"offset":0.6,"color":"#FFA8A8"},{"offset":0.65,"color":"#FFA8A8"},{"offset":0.65,"color":"#FF5B5B"},{"offset":0.7,"color":"#FF5B5B"},
                {"offset":0.7,"color":"#FFA8A8"},{"offset":0.75,"color":"#FFA8A8"},{"offset":0.75,"color":"#FF5B5B"},{"offset":0.8,"color":"#FF5B5B"},
                {"offset":0.8,"color":"#FFA8A8"},{"offset":0.85,"color":"#FFA8A8"},{"offset":0.85,"color":"#FF5B5B"},{"offset":0.9,"color":"#FF5B5B"},
                {"offset":0.9,"color":"#FFA8A8"},{"offset":0.95,"color":"#FFA8A8"},{"offset":0.95,"color":"#FF5B5B"},{"offset":1,"color":"#FF5B5B"}]}},
              "encoding": {
                "x": {"field": "m", "type": "nominal", "sort": ["noLUC","dLUCa","dLUCb","COC"], "title": "Applied LUC method for GWP calculation"},
                "y": {"field": "y0", "type": "quantitative", "scale": {"domain": [0, 100]}, "title": "Contribution to GWP", "axis": {"values": [0,10,20,30,40,50,60,70,80,90,100], "labelExpr": "datum.value + '%'"}},
                "y2": {"field": "y1"}
              }
            },
            {
              "data": {"name": "segs"},
              "transform": [
                {"filter": "datum.p === 'B'"},
                {"stack": "v", "groupby": ["m"], "sort": [{"field": "o", "order": "ascending"}], "as": ["y0", "y1"]},
                {"filter": "datum.s === 'Housing - Weaners'"}
              ],
              "mark": {"type": "bar", "width": {"band": 0.84}, "fill": {"gradient": "linear", "x1": 0, "y1": 0, "x2": 1, "y2": 0, "stops": [
                {"offset":0,"color":"#FFE699"},{"offset":0.05,"color":"#FFE699"},{"offset":0.05,"color":"#FFC000"},{"offset":0.1,"color":"#FFC000"},
                {"offset":0.1,"color":"#FFE699"},{"offset":0.15,"color":"#FFE699"},{"offset":0.15,"color":"#FFC000"},{"offset":0.2,"color":"#FFC000"},
                {"offset":0.2,"color":"#FFE699"},{"offset":0.25,"color":"#FFE699"},{"offset":0.25,"color":"#FFC000"},{"offset":0.3,"color":"#FFC000"},
                {"offset":0.3,"color":"#FFE699"},{"offset":0.35,"color":"#FFE699"},{"offset":0.35,"color":"#FFC000"},{"offset":0.4,"color":"#FFC000"},
                {"offset":0.4,"color":"#FFE699"},{"offset":0.45,"color":"#FFE699"},{"offset":0.45,"color":"#FFC000"},{"offset":0.5,"color":"#FFC000"},
                {"offset":0.5,"color":"#FFE699"},{"offset":0.55,"color":"#FFE699"},{"offset":0.55,"color":"#FFC000"},{"offset":0.6,"color":"#FFC000"},
                {"offset":0.6,"color":"#FFE699"},{"offset":0.65,"color":"#FFE699"},{"offset":0.65,"color":"#FFC000"},{"offset":0.7,"color":"#FFC000"},
                {"offset":0.7,"color":"#FFE699"},{"offset":0.75,"color":"#FFE699"},{"offset":0.75,"color":"#FFC000"},{"offset":0.8,"color":"#FFC000"},
                {"offset":0.8,"color":"#FFE699"},{"offset":0.85,"color":"#FFE699"},{"offset":0.85,"color":"#FFC000"},{"offset":0.9,"color":"#FFC000"},
                {"offset":0.9,"color":"#FFE699"},{"offset":0.95,"color":"#FFE699"},{"offset":0.95,"color":"#FFC000"},{"offset":1,"color":"#FFC000"}]}},
              "encoding": {
                "x": {"field": "m", "type": "nominal", "sort": ["noLUC","dLUCa","dLUCb","COC"], "title": "Applied LUC method for GWP calculation"},
                "y": {"field": "y0", "type": "quantitative", "scale": {"domain": [0, 100]}, "title": "Contribution to GWP", "axis": {"values": [0,10,20,30,40,50,60,70,80,90,100], "labelExpr": "datum.value + '%'"}},
                "y2": {"field": "y1"}
              }
            },
            {
              "data": {"name": "line"},
              "mark": {"type": "rule", "color": "#333333", "strokeWidth": 0.8, "strokeDash": [2, 1.5]},
              "encoding": {"y": {"datum": 106.8, "type": "quantitative", "scale": {"domain": [0, 100]}, "title": "Contribution to GWP", "axis": {"values": [0,10,20,30,40,50,60,70,80,90,100], "labelExpr": "datum.value + '%'"}}}
            },
            {
              "data": {"name": "line"},
              "mark": {"type": "rule", "color": "#333333", "strokeWidth": 0.8, "strokeDash": [2, 1.5]},
              "encoding": {"y": {"datum": -6.35, "type": "quantitative", "scale": {"domain": [0, 100]}, "title": "Contribution to GWP", "axis": {"values": [0,10,20,30,40,50,60,70,80,90,100], "labelExpr": "datum.value + '%'"}}}
            },
            {
              "data": {"name": "unit"},
              "mark": {"type": "text", "fontSize": 9, "baseline": "middle", "align": "center", "fill": "white", "stroke": "white", "strokeWidth": 6},
              "encoding": {
                "x": {"datum": "dLUCa", "type": "nominal", "bandPosition": 1.214, "sort": ["noLUC","dLUCa","dLUCb","COC"], "title": "Applied LUC method for GWP calculation"},
                "y": {"datum": 106.8, "type": "quantitative", "scale": {"domain": [0, 100]}, "title": "Contribution to GWP", "axis": {"values": [0,10,20,30,40,50,60,70,80,90,100], "labelExpr": "datum.value + '%'"}},
                "text": {"field": "u"}
              }
            },
            {
              "data": {"name": "unit"},
              "mark": {"type": "text", "fontSize": 9, "baseline": "middle", "align": "center", "fill": "black"},
              "encoding": {
                "x": {"datum": "dLUCa", "type": "nominal", "bandPosition": 1.214, "sort": ["noLUC","dLUCa","dLUCb","COC"], "title": "Applied LUC method for GWP calculation"},
                "y": {"datum": 106.8, "type": "quantitative", "scale": {"domain": [0, 100]}, "title": "Contribution to GWP", "axis": {"values": [0,10,20,30,40,50,60,70,80,90,100], "labelExpr": "datum.value + '%'"}},
                "text": {"field": "u"}
              }
            },
            {
              "data": {"name": "kg"},
              "transform": [{"filter": "datum.p === 'B'"}],
              "mark": {"type": "text", "fontSize": 17, "baseline": "alphabetic", "fill": "black"},
              "encoding": {
                "x": {"field": "m", "type": "nominal", "sort": ["noLUC","dLUCa","dLUCb","COC"], "title": "Applied LUC method for GWP calculation"},
                "y": {"datum": 102.9, "type": "quantitative", "scale": {"domain": [0, 100]}, "title": "Contribution to GWP", "axis": {"values": [0,10,20,30,40,50,60,70,80,90,100], "labelExpr": "datum.value + '%'"}},
                "text": {"field": "kg"}
              }
            }
          ]
        }
      ]
    }
  ],
  "config": {
    "font": "Liberation Serif",
    "view": {"stroke": "black", "strokeWidth": 2},
    "scale": {"bandPaddingInner": 0.3, "bandPaddingOuter": 0.15},
    "axisX": {"domain": false, "ticks": false, "grid": false, "labelAngle": 0, "labelPadding": 12, "labelFontSize": 17, "labelColor": "black", "titleFontSize": 18.5, "titleFontWeight": "normal", "titleColor": "black", "titlePadding": 16},
    "axisY": {"domain": false, "ticks": false, "grid": true, "gridColor": "black", "gridDash": [4, 3], "gridWidth": 1, "gridOpacity": 1, "labelPadding": 14, "labelFontSize": 17.5, "labelColor": "black", "titleFontSize": 20.5, "titleFontWeight": "normal", "titleColor": "black", "titlePadding": 6},
    "title": {"font": "Liberation Serif", "fontWeight": "normal", "color": "black"},
    "legend": {"labelFont": "Liberation Serif"}
  }
}
